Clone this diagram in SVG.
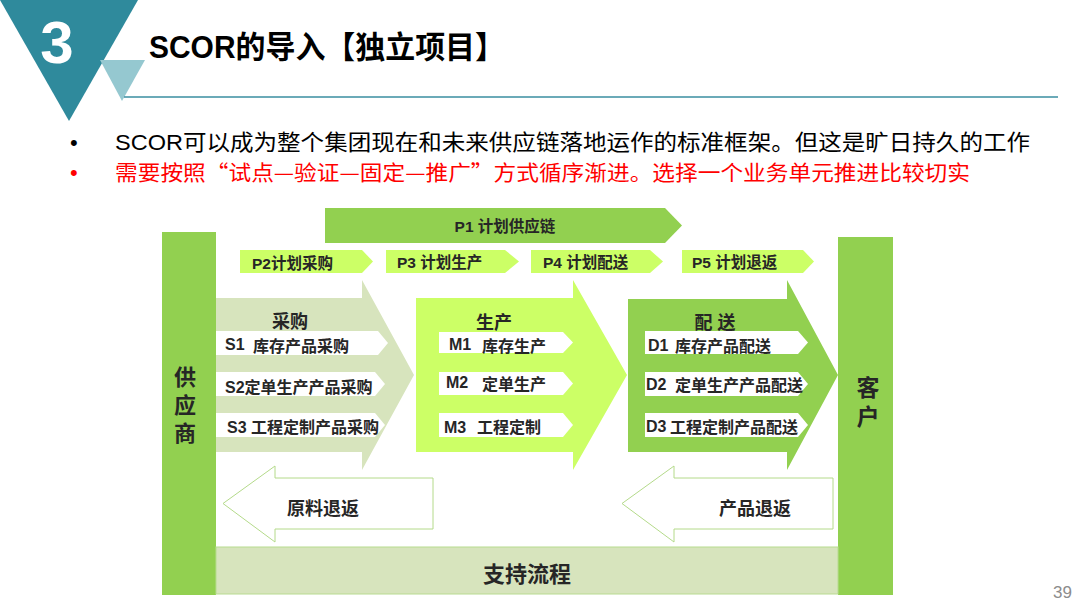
<svg xmlns="http://www.w3.org/2000/svg" width="1080" height="608" viewBox="0 0 1080 608">
<style>
text{font-family:"Liberation Sans","Noto Sans CJK SC",sans-serif;}
.b{font-weight:bold;fill:#262626;}
.dark{fill:#92d050;}
.lime{fill:#ccff66;}
.olive{fill:#d7e4bd;}
.wh{fill:#ffffff;}
.ret{fill:#ffffff;stroke:#b4da8a;stroke-width:1;}
.sub{font-size:16px;}
.p{font-size:15.5px;}
</style>
<rect width="1080" height="608" fill="#ffffff"/>
<!-- header -->
<g id="header">
<polygon points="0,0 138,0 69,121" fill="#2f8a9c"/>
<polygon points="100,60 145,60 122,101" fill="#95c8d0"/>
<text x="57" y="63" font-size="60" font-weight="bold" fill="#ffffff" text-anchor="middle">3</text>
<text x="149" y="58" font-size="31" font-weight="bold" fill="#000000" textLength="356" lengthAdjust="spacingAndGlyphs">SCOR的导入【独立项目】</text>
<line x1="124" y1="97" x2="1058" y2="97" stroke="#3a8ea0" stroke-width="1.5"/>
</g>
<g id="bullets" font-size="22">
<text x="70" y="150" fill="#000000">•</text>
<text x="115" y="150" fill="#000000" textLength="915" lengthAdjust="spacingAndGlyphs">SCOR可以成为整个集团现在和未来供应链落地运作的标准框架。但这是旷日持久的工作</text>
<text x="70" y="180" fill="#ff0000">•</text>
<text x="115" y="180" fill="#ff0000" font-size="21" style="font-family:'Noto Sans CJK SC',sans-serif" textLength="855" lengthAdjust="spacingAndGlyphs">需要按照“试点—验证—固定—推广”方式循序渐进。选择一个业务单元推进比较切实</text>
</g>
<!-- side bars -->
<g id="supplier">
<rect x="162" y="232" width="54" height="363" class="dark"/>
<text class="b" font-size="22" text-anchor="middle"><tspan x="185" y="385">供</tspan><tspan x="185" y="413">应</tspan><tspan x="185" y="441">商</tspan></text>
</g>
<g id="customer">
<rect x="838" y="237" width="55" height="358" class="dark"/>
<text class="b" font-size="23" text-anchor="middle"><tspan x="868" y="396">客</tspan><tspan x="868" y="425">户</tspan></text>
</g>
<g id="support">
<rect x="216" y="547" width="622" height="47" class="olive" stroke="#b8db90" stroke-width="1"/>
<text class="b" x="527" y="582" font-size="22" text-anchor="middle">支持流程</text>
</g>
<!-- plan arrows -->
<g id="p1">
<polygon points="325,208 665,208 682,225.5 665,243 325,243" class="dark"/>
<text class="b p" x="505" y="232" text-anchor="middle">P1 计划供应链</text>
</g>
<g id="p2">
<polygon points="240,250 362,250 373,261.5 362,273 240,273" class="lime"/>
<text class="b p" x="252" y="269">P2计划采购</text>
</g>
<g id="p3">
<polygon points="386,250 505,250 519,261.5 505,273 386,273" class="lime"/>
<text class="b p" x="397" y="268">P3 计划生产</text>
</g>
<g id="p4">
<polygon points="531,250 650,250 663,261.5 650,273 531,273" class="lime"/>
<text class="b p" x="543" y="268">P4 计划配送</text>
</g>
<g id="p5">
<polygon points="682,250 803,250 814,261.5 803,273 682,273" class="lime"/>
<text class="b p" x="692" y="268">P5 计划退返</text>
</g>
<!-- source -->
<g id="source">
<polygon points="216,298 362,298 362,280 414,375 362,470 362,452 216,452" class="olive"/>
<text class="b" x="290" y="328" font-size="18" text-anchor="middle">采购</text>
<polygon points="216,331 378,331 388,343 378,355 216,355" class="wh"/>
<text class="b sub" x="225" y="350">S1</text>
<text class="b sub" x="253" y="352">库存产品采购</text>
<polygon points="216,372 375,372 385,384 375,396 216,396" class="wh"/>
<text class="b sub" x="225" y="393">S2定单生产产品采购</text>
<polygon points="216,413 375,413 385,425 375,437 216,437" class="wh"/>
<text class="b sub" x="227" y="433">S3 工程定制产品采购</text>
</g>
<!-- make -->
<g id="make">
<polygon points="416,298 573,298 573,280 627,375 573,470 573,452 416,452" class="lime"/>
<text class="b" x="494" y="329" font-size="18" text-anchor="middle">生产</text>
<polygon points="439,332 563,332 573,342.5 563,353 439,353" class="wh"/>
<text class="b sub" x="449" y="350">M1</text>
<text class="b sub" x="482" y="352">库存生产</text>
<polygon points="439,372 563,372 573,383.5 563,395 439,395" class="wh"/>
<text class="b sub" x="446" y="388">M2</text>
<text class="b sub" x="482" y="390">定单生产</text>
<polygon points="439,413 563,413 573,425 563,437 439,437" class="wh"/>
<text class="b sub" x="444" y="433">M3</text>
<text class="b sub" x="477" y="433">工程定制</text>
</g>
<!-- deliver -->
<g id="deliver">
<polygon points="628,299 787,299 787,280 838,375 787,470 787,452 628,452" class="dark"/>
<text class="b" x="715" y="329" font-size="18" text-anchor="middle">配 送</text>
<polygon points="645,331 798,331 808,342.5 798,354 645,354" class="wh"/>
<text class="b sub" x="648" y="351">D1</text>
<text class="b sub" x="675" y="352">库存产品配送</text>
<polygon points="645,372 798,372 808,384 798,396 645,396" class="wh"/>
<text class="b sub" x="646" y="390">D2</text>
<text class="b sub" x="675" y="391">定单生产产品配送</text>
<polygon points="645,413 798,413 808,425 798,437 645,437" class="wh"/>
<text class="b sub" x="646" y="432">D3</text>
<text class="b sub" x="670" y="433">工程定制产品配送</text>
</g>
<!-- returns -->
<g id="return-source">
<polygon points="223,503.5 275,466 275,478 433,478 433,529 275,529 275,542" class="ret"/>
<text class="b" x="323" y="515" font-size="18" text-anchor="middle">原料退返</text>
</g>
<g id="return-deliver">
<polygon points="622,503.5 674,466 674,478 833,478 833,529 674,529 674,542" class="ret"/>
<text class="b" x="755" y="515" font-size="18" text-anchor="middle">产品退返</text>
</g>
<g id="connectors"></g>
<text x="1072" y="598" font-size="17" fill="#8c8c8c" text-anchor="end">39</text>
</svg>
